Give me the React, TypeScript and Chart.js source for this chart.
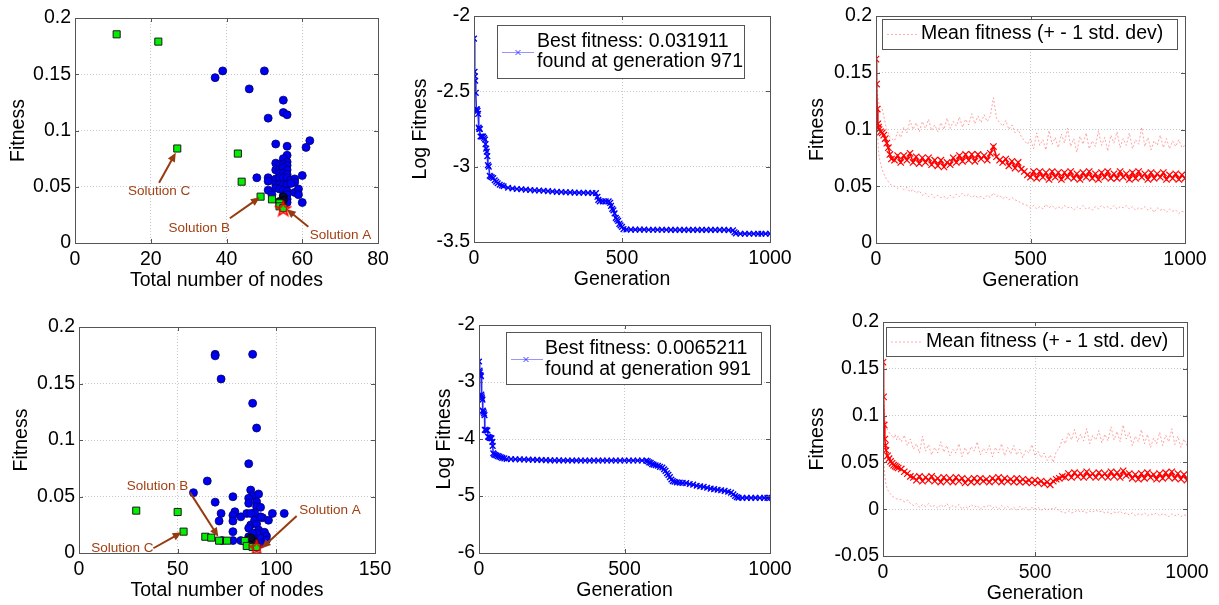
import React, { useEffect, useRef } from 'react';
import { Chart, registerables } from 'chart.js';
Chart.register(...registerables);

const FONT = "'Liberation Sans', Arial, Helvetica, sans-serif";
const BROWN_TEXT = 'rgb(160,64,20)';
const BROWN_ARROW = 'rgb(150,58,15)';

// ---------- Top-left scatter (fitness vs nodes) ----------
const TL_BLUE_NODES = [37,39,46,50,55,55,56,51,53,56,62,61,56,55,56,53,54,55,56,53,54,55,56,54,55,56,60,48,51,51,53,54,55,56,57,58,58,53,54,55,56,57,53,51,54,55,56,58,59,59,52,55,56,55,56,56,60];
const TL_BLUE_FIT = [0.147,0.153,0.137,0.153,0.127,0.116,0.114,0.111,0.088,0.086,0.091,0.085,0.078,0.075,0.072,0.071,0.070,0.070,0.069,0.065,0.065,0.067,0.065,0.062,0.062,0.061,0.060,0.058,0.058,0.055,0.057,0.058,0.058,0.058,0.056,0.057,0.054,0.052,0.052,0.052,0.052,0.053,0.049,0.047,0.048,0.047,0.046,0.045,0.048,0.043,0.043,0.042,0.043,0.039,0.039,0.036,0.036];
const TL_BLACK_NODES = [55,55,54];
const TL_BLACK_FIT = [0.041,0.038,0.037];
const TL_GREEN_NODES = [11,22,27,43,44,49,52,54,54,55];
const TL_GREEN_FIT = [0.1855,0.179,0.084,0.0795,0.0545,0.0412,0.0388,0.0353,0.0326,0.031];
const TL_STAR_NODES = [55];
const TL_STAR_FIT = [0.0305];
const TL_LABELS = ['Solution C','Solution B','Solution A'];
const TL_LABEL_X = [22.2,32.8,70.1];
const TL_LABEL_Y = [0.0456,0.0133,0.0071];
const TL_ARROW_FROM_X = [22.2,40.9,61.6];
const TL_ARROW_FROM_Y = [0.0536,0.022,0.0145];
const TL_ARROW_TO_X = [26.6,48.8,55.9];
const TL_ARROW_TO_Y = [0.0803,0.0406,0.030];

// ---------- Bottom-left scatter ----------
const BL_BLUE_NODES = [69,69,88,72,88,90,86,58,65,69,78,72,71,79,78,78,78,82,85,87,88,91,86,86,90,90,92,98,104,96,93,92,89,87,87,89,90,91,86,86,90,94,95,88,88,90,92,78,82,72.5,95,88,92];
const BL_BLUE_FIT = [0.1758,0.1745,0.1758,0.154,0.1325,0.1106,0.079,0.0534,0.0637,0.045,0.0498,0.035,0.0283,0.0365,0.0333,0.0283,0.0189,0.032,0.035,0.0557,0.0507,0.0522,0.0484,0.044,0.0454,0.041,0.0404,0.035,0.035,0.029,0.0312,0.032,0.0357,0.035,0.0248,0.029,0.0257,0.0204,0.022,0.0144,0.0175,0.0183,0.015,0.0175,0.0121,0.0109,0.013,0.011,0.011,0.011,0.0115,0.0083,0.0083];
const BL_BLACK_NODES = [86,88,89,87];
const BL_BLACK_FIT = [0.0115,0.0105,0.0095,0.0135];
const BL_GREEN_NODES = [29,50,53,64,67,71,75,84,85,88,90];
const BL_GREEN_FIT = [0.0375,0.0363,0.0189,0.0144,0.0136,0.0109,0.0109,0.0106,0.0062,0.0053,0.0053];
const BL_STAR_NODES = [90];
const BL_STAR_FIT = [0.0048];
const BL_LABELS = ['Solution C','Solution B','Solution A'];
const BL_LABEL_X = [22,39.8,127.2];
const BL_LABEL_Y = [0.0042,0.0587,0.038];
const BL_ARROW_FROM_X = [37.7,56.3,110.3];
const BL_ARROW_FROM_Y = [0.0042,0.0534,0.0327];
const BL_ARROW_TO_X = [52,70.6,92.6];
const BL_ARROW_TO_Y = [0.0183,0.0144,0.0042];

// ---------- Best fitness (log) [generation, ln fitness] ----------
const TOP_BEST: [number, number][] = [[0,-2.15],[2,-2.37],[3,-2.40],[4,-2.43],[6,-2.51],[8,-2.62],[10,-2.62],[12,-2.63],[14,-2.65],[16,-2.74],[18,-2.75],[20,-2.75],[22,-2.80],[25,-2.80],[28,-2.80],[31,-2.80],[34,-2.81],[37,-2.82],[39,-2.85],[41,-2.88],[43,-2.90],[45,-2.93],[47,-2.99],[50,-3.00],[53,-3.06],[56,-3.065],[60,-3.07],[65,-3.075],[70,-3.09],[75,-3.10],[80,-3.11],[87,-3.12],[94,-3.125],[100,-3.13],[115,-3.14],[130,-3.145],[145,-3.148],[160,-3.15],[175,-3.152],[190,-3.155],[205,-3.157],[220,-3.158],[235,-3.16],[250,-3.162],[265,-3.165],[280,-3.167],[295,-3.168],[310,-3.17],[325,-3.171],[340,-3.172],[355,-3.173],[370,-3.173],[385,-3.174],[400,-3.175],[412,-3.176],[417,-3.20],[420,-3.22],[425,-3.23],[435,-3.23],[445,-3.23],[455,-3.23],[460,-3.24],[463,-3.26],[467,-3.28],[471,-3.29],[475,-3.31],[479,-3.34],[483,-3.35],[487,-3.36],[491,-3.38],[495,-3.39],[500,-3.40],[505,-3.415],[515,-3.417],[530,-3.418],[545,-3.418],[560,-3.418],[575,-3.418],[590,-3.419],[605,-3.419],[620,-3.419],[635,-3.419],[650,-3.419],[665,-3.42],[680,-3.42],[695,-3.42],[710,-3.42],[725,-3.42],[740,-3.42],[755,-3.42],[770,-3.42],[785,-3.42],[800,-3.42],[815,-3.42],[830,-3.42],[845,-3.42],[860,-3.421],[875,-3.422],[880,-3.435],[885,-3.443],[900,-3.445],[915,-3.445],[930,-3.445],[945,-3.445],[960,-3.445],[971,-3.445],[985,-3.445],[1000,-3.445]];
const BOTTOM_BEST: [number, number][] = [[0,-2.64],[2,-2.80],[3,-2.83],[5,-2.88],[7,-2.90],[8,-3.22],[9,-3.25],[10,-3.28],[12,-3.31],[13,-3.50],[15,-3.52],[17,-3.55],[19,-3.58],[20,-3.84],[23,-3.84],[26,-3.85],[29,-3.85],[31,-3.96],[34,-3.97],[37,-3.98],[40,-3.98],[43,-3.99],[46,-4.05],[47,-4.12],[49,-4.25],[52,-4.27],[56,-4.28],[60,-4.29],[65,-4.30],[70,-4.31],[75,-4.32],[80,-4.33],[87,-4.34],[95,-4.35],[110,-4.352],[125,-4.355],[140,-4.357],[155,-4.36],[170,-4.362],[185,-4.364],[200,-4.366],[215,-4.368],[230,-4.37],[245,-4.375],[260,-4.376],[275,-4.376],[290,-4.377],[305,-4.377],[320,-4.377],[335,-4.377],[350,-4.378],[365,-4.378],[380,-4.378],[395,-4.378],[410,-4.378],[425,-4.378],[440,-4.378],[455,-4.378],[470,-4.378],[485,-4.378],[500,-4.378],[515,-4.378],[530,-4.378],[545,-4.378],[560,-4.378],[575,-4.38],[580,-4.39],[585,-4.41],[590,-4.42],[595,-4.44],[600,-4.45],[607,-4.46],[615,-4.47],[622,-4.49],[630,-4.50],[636,-4.53],[641,-4.56],[646,-4.60],[651,-4.63],[656,-4.67],[661,-4.71],[666,-4.74],[672,-4.75],[680,-4.76],[690,-4.765],[700,-4.77],[712,-4.775],[724,-4.79],[736,-4.80],[748,-4.82],[760,-4.83],[772,-4.84],[784,-4.855],[796,-4.87],[808,-4.88],[820,-4.89],[832,-4.90],[844,-4.91],[856,-4.925],[866,-4.94],[874,-4.97],[880,-5.00],[886,-5.02],[892,-5.03],[905,-5.033],[920,-5.033],[935,-5.033],[950,-5.033],[965,-5.033],[980,-5.033],[991,-5.033],[1000,-5.033]];
const TOP_BEST_LEGEND = ['Best fitness: 0.031911', 'found at generation 971'];
const BOTTOM_BEST_LEGEND = ['Best fitness: 0.0065211', 'found at generation 991'];

// ---------- Mean fitness +/- 1 std (sampled generations) ----------
const EARLY_GENS = [0,2,4,6,8,10,15,20,25,30,35,40,45,50];
const LATE_GENS = Array.from({ length: 95 }, (_, i) => 60 + 10 * i);
const GENS = [...EARLY_GENS, ...LATE_GENS];

const TR_MEAN = [0.162,0.14,0.118,0.105,0.102,0.100,0.098,0.097,0.095,0.092,0.088,0.084,0.078,0.074,
  0.073,0.077,0.071,0.077,0.073,0.079,0.071,0.076,0.070,0.075,
  0.071,0.075,0.069,0.073,0.068,0.073,0.067,0.071,0.069,0.075,
  0.071,0.077,0.072,0.078,0.073,0.078,0.072,0.078,0.074,0.077,
  0.073,0.079,0.085,0.076,0.073,0.071,0.074,0.068,0.072,0.066,
  0.071,0.065,0.063,0.060,0.058,0.063,0.057,0.063,0.058,0.062,
  0.056,0.063,0.058,0.062,0.056,0.062,0.058,0.063,0.057,0.061,
  0.056,0.062,0.058,0.063,0.057,0.061,0.056,0.062,0.058,0.063,
  0.057,0.061,0.057,0.063,0.058,0.061,0.056,0.062,0.057,0.063,
  0.058,0.061,0.056,0.062,0.057,0.061,0.058,0.062,0.056,0.060,
  0.057,0.061,0.056,0.060,0.057];
const TR_UPPER = [0.17,0.155,0.14,0.128,0.125,0.122,0.12,0.118,0.112,0.105,0.10,0.097,0.093,0.092,
  0.090,0.098,0.093,0.102,0.097,0.108,0.100,0.106,0.098,0.107,
  0.101,0.109,0.099,0.104,0.098,0.106,0.100,0.110,0.101,0.107,
  0.103,0.111,0.102,0.109,0.104,0.114,0.105,0.112,0.106,0.113,
  0.107,0.112,0.128,0.110,0.106,0.103,0.108,0.100,0.104,0.097,
  0.100,0.094,0.090,0.087,0.092,0.083,0.097,0.086,0.091,0.082,
  0.099,0.087,0.093,0.084,0.096,0.088,0.101,0.085,0.092,0.080,
  0.094,0.087,0.097,0.083,0.090,0.085,0.099,0.086,0.093,0.081,
  0.095,0.088,0.098,0.084,0.092,0.086,0.097,0.083,0.091,0.087,
  0.102,0.085,0.093,0.082,0.090,0.086,0.095,0.084,0.092,0.083,
  0.090,0.085,0.091,0.084,0.086];
const TR_LOWER = [0.152,0.12,0.10,0.09,0.082,0.076,0.07,0.065,0.061,0.058,0.056,0.054,0.052,0.051,
  0.050,0.048,0.050,0.047,0.049,0.045,0.047,0.044,0.046,0.042,
  0.044,0.041,0.043,0.040,0.042,0.040,0.041,0.039,0.042,0.040,
  0.043,0.041,0.044,0.041,0.043,0.040,0.042,0.040,0.041,0.039,
  0.042,0.040,0.044,0.041,0.042,0.039,0.041,0.038,0.040,0.038,
  0.037,0.035,0.034,0.033,0.031,0.033,0.030,0.032,0.030,0.034,
  0.031,0.033,0.030,0.032,0.030,0.033,0.031,0.032,0.029,0.032,
  0.030,0.033,0.030,0.031,0.029,0.032,0.030,0.033,0.031,0.032,
  0.030,0.033,0.030,0.032,0.031,0.033,0.030,0.032,0.029,0.031,
  0.030,0.032,0.029,0.031,0.027,0.031,0.029,0.030,0.027,0.030,
  0.028,0.029,0.026,0.028,0.027];

const BR_MEAN = [0.157,0.12,0.09,0.075,0.068,0.063,0.057,0.054,0.051,0.049,0.047,0.046,0.045,0.044,
  0.043,0.040,0.038,0.035,0.034,0.031,0.035,0.030,0.034,0.031,
  0.035,0.030,0.033,0.029,0.034,0.030,0.033,0.029,0.034,0.030,
  0.033,0.028,0.032,0.029,0.033,0.029,0.033,0.030,0.032,0.029,
  0.033,0.030,0.034,0.029,0.033,0.030,0.032,0.029,0.033,0.029,
  0.032,0.029,0.031,0.028,0.031,0.028,0.030,0.027,0.029,0.026,
  0.030,0.032,0.033,0.035,0.034,0.038,0.034,0.039,0.035,0.038,
  0.034,0.040,0.035,0.038,0.034,0.039,0.035,0.038,0.034,0.040,
  0.035,0.039,0.034,0.041,0.036,0.038,0.033,0.037,0.032,0.038,
  0.033,0.039,0.034,0.037,0.032,0.038,0.033,0.039,0.034,0.040,
  0.033,0.038,0.032,0.037,0.031];
const BR_UPPER = [0.18,0.14,0.11,0.10,0.095,0.09,0.085,0.082,0.080,0.078,0.076,0.080,0.074,0.078,
  0.072,0.079,0.068,0.075,0.064,0.070,0.060,0.078,0.062,0.069,
  0.058,0.066,0.060,0.072,0.061,0.068,0.057,0.064,0.060,0.070,
  0.056,0.066,0.058,0.067,0.062,0.072,0.058,0.065,0.060,0.068,
  0.056,0.066,0.060,0.070,0.057,0.066,0.059,0.068,0.058,0.064,
  0.055,0.063,0.060,0.069,0.057,0.062,0.055,0.060,0.052,0.058,
  0.050,0.062,0.065,0.075,0.070,0.082,0.074,0.085,0.072,0.080,
  0.073,0.086,0.070,0.079,0.074,0.084,0.071,0.080,0.073,0.088,
  0.074,0.083,0.072,0.090,0.075,0.082,0.068,0.078,0.072,0.085,
  0.070,0.080,0.066,0.076,0.070,0.082,0.068,0.079,0.072,0.086,
  0.069,0.078,0.066,0.075,0.068];
const BR_LOWER = [0.14,0.07,0.045,0.035,0.03,0.026,0.021,0.018,0.016,0.014,0.013,0.012,0.011,0.011,
  0.010,0.008,0.010,0.006,0.004,0.006,0.002,0.005,0.003,0.006,
  0.002,0.004,0.001,0.005,0.002,0.006,0.001,0.004,0.002,0.005,
  0.000,0.003,0.001,0.005,0.002,0.004,0.000,0.003,0.002,0.005,
  0.001,0.003,0.000,0.004,0.001,0.003,0.000,0.002,-0.001,0.003,
  0.000,0.002,-0.001,0.002,0.000,0.002,-0.001,0.001,-0.001,0.001,
  0.000,0.002,-0.002,-0.003,-0.004,-0.002,-0.004,-0.003,-0.001,-0.003,
  -0.002,-0.004,-0.002,-0.003,-0.001,-0.003,-0.002,-0.004,-0.003,-0.005,
  -0.003,-0.004,-0.002,-0.005,-0.004,-0.006,-0.004,-0.007,-0.005,-0.006,
  -0.004,-0.007,-0.005,-0.006,-0.004,-0.007,-0.005,-0.006,-0.008,-0.005,
  -0.007,-0.005,-0.008,-0.006,-0.007];
const MEAN_LEGEND = ['Mean fitness (+ - 1 std. dev)'];

// ---------- helpers ----------
const pts = (xs: number[], ys: number[]) => xs.map((x, i) => ({ x, y: ys[i] }));
const pairPts = (arr: [number, number][]) => arr.map(([x, y]) => ({ x, y }));
const fmt = (v: any) => String(Math.round(Number(v) * 10000) / 10000);

type Legend = { dx: number; dy: number; w: number; h: number; sy: number; s0: number; s1: number; marker: number | null; color: string; dash: number[]; tx: number; ty: number[]; lines: string[]; markerColor: string };
type Annots = { labels: string[]; lx: number[]; ly: number[]; fx: number[]; fy: number[]; tx: number[]; ty: number[] };
type Panel = {
  L: number; T: number; R: number; B: number; titleCX: number;
  xMin: number; xMax: number; xStep: number; yMin: number; yMax: number; yStep: number;
  xTitle: string; yTitle: string; datasets: (star: HTMLCanvasElement) => any[];
  annots?: Annots; legend?: Legend;
};

const PAD_T = 16, PAD_R = 30, HX = 49, HALF_TITLE = 11.7;

function scatterSets(bn: number[], bf: number[], kn: number[], kf: number[], gn: number[], gf: number[], sn: number[], sf: number[]) {
  return (star: HTMLCanvasElement) => [
    { data: pts(sn, sf), pointStyle: star, pointRadius: 7, showLine: false },
    { data: pts(gn, gf), pointStyle: 'rect', pointRadius: 5, pointBackgroundColor: '#00f000', pointBorderColor: '#1a1a1a', pointBorderWidth: 1, showLine: false },
    { data: pts(kn, kf), pointStyle: 'circle', pointRadius: 4, pointBackgroundColor: '#0a0a30', pointBorderColor: '#000', pointBorderWidth: 0.8, showLine: false },
    { data: pts(bn, bf), pointStyle: 'circle', pointRadius: 4, pointBackgroundColor: '#0000f0', pointBorderColor: '#00006a', pointBorderWidth: 0.8, showLine: false },
  ];
}
function bestSets(arr: [number, number][]) {
  return () => [
    { data: pairPts(arr), showLine: true, borderColor: 'rgba(0,0,255,0.85)', borderWidth: 1.6, pointStyle: 'crossRot', pointRadius: 4, pointBorderColor: 'rgb(0,0,255)', pointBackgroundColor: 'rgba(0,0,0,0)', pointBorderWidth: 1.4 },
  ];
}
function meanSets(mean: number[], up: number[], low: number[]) {
  const std = { showLine: true, borderColor: 'rgba(255,90,90,0.55)', borderWidth: 1, borderDash: [2, 2], pointRadius: 0 };
  return () => [
    { data: pts(GENS, mean), showLine: true, borderColor: 'rgb(255,0,0)', borderWidth: 1.6, pointStyle: 'crossRot', pointRadius: 4.5, pointBorderColor: 'rgb(255,0,0)', pointBackgroundColor: 'rgba(0,0,0,0)', pointBorderWidth: 1.2 },
    { data: pts(GENS, up), ...std },
    { data: pts(GENS, low), ...std },
  ];
}

const bestLegend = (lines: string[], dx: number, dy: number, w: number, h: number, tx: number, ty: number[], marker: number): Legend => ({
  dx, dy, w, h, sy: 27, s0: 5, s1: 37, marker, color: 'rgba(80,80,255,0.6)', dash: [], tx, ty, lines, markerColor: 'rgb(60,60,255)',
});
const meanLegend = (dx: number, dy: number, w: number, h: number, tx: number, ty: number): Legend => ({
  dx, dy, w, h, sy: h / 2, s0: 5, s1: 37, marker: null, color: 'rgba(255,120,120,0.6)', dash: [2, 2], tx, ty: [ty], lines: MEAN_LEGEND, markerColor: '',
});

const PANELS: Panel[] = [
  { L: 75, T: 18, R: 378, B: 243, titleCX: 19, xMin: 0, xMax: 80, xStep: 20, yMin: 0, yMax: 0.2, yStep: 0.05,
    xTitle: 'Total number of nodes', yTitle: 'Fitness',
    datasets: scatterSets(TL_BLUE_NODES, TL_BLUE_FIT, TL_BLACK_NODES, TL_BLACK_FIT, TL_GREEN_NODES, TL_GREEN_FIT, TL_STAR_NODES, TL_STAR_FIT),
    annots: { labels: TL_LABELS, lx: TL_LABEL_X, ly: TL_LABEL_Y, fx: TL_ARROW_FROM_X, fy: TL_ARROW_FROM_Y, tx: TL_ARROW_TO_X, ty: TL_ARROW_TO_Y } },
  { L: 474, T: 16, R: 770, B: 242, titleCX: 421, xMin: 0, xMax: 1000, xStep: 500, yMin: -3.5, yMax: -2, yStep: 0.5,
    xTitle: 'Generation', yTitle: 'Log Fitness', datasets: bestSets(TOP_BEST),
    legend: bestLegend(TOP_BEST_LEGEND, 23, 9, 247, 53, 40, [17, 37], 21) },
  { L: 876, T: 16, R: 1185, B: 243, titleCX: 818, xMin: 0, xMax: 1000, xStep: 500, yMin: 0, yMax: 0.2, yStep: 0.05,
    xTitle: 'Generation', yTitle: 'Fitness', datasets: meanSets(TR_MEAN, TR_UPPER, TR_LOWER),
    legend: meanLegend(6, 3, 295, 30, 39, 15) },
  { L: 79, T: 327, R: 375, B: 553, titleCX: 22, xMin: 0, xMax: 150, xStep: 50, yMin: 0, yMax: 0.2, yStep: 0.05,
    xTitle: 'Total number of nodes', yTitle: 'Fitness',
    datasets: scatterSets(BL_BLUE_NODES, BL_BLUE_FIT, BL_BLACK_NODES, BL_BLACK_FIT, BL_GREEN_NODES, BL_GREEN_FIT, BL_STAR_NODES, BL_STAR_FIT),
    annots: { labels: BL_LABELS, lx: BL_LABEL_X, ly: BL_LABEL_Y, fx: BL_ARROW_FROM_X, fy: BL_ARROW_FROM_Y, tx: BL_ARROW_TO_X, ty: BL_ARROW_TO_Y } },
  { L: 479, T: 325, R: 770, B: 553, titleCX: 445, xMin: 0, xMax: 1000, xStep: 500, yMin: -6, yMax: -2, yStep: 1,
    xTitle: 'Generation', yTitle: 'Log Fitness', datasets: bestSets(BOTTOM_BEST),
    legend: bestLegend(BOTTOM_BEST_LEGEND, 27, 7, 255, 52, 39, [17, 38], 20) },
  { L: 883, T: 322, R: 1187, B: 556, titleCX: 818, xMin: 0, xMax: 1000, xStep: 500, yMin: -0.05, yMax: 0.2, yStep: 0.05,
    xTitle: 'Generation', yTitle: 'Fitness', datasets: meanSets(BR_MEAN, BR_UPPER, BR_LOWER),
    legend: meanLegend(3, 5, 297, 29, 40, 15) },
];

function geom(p: Panel) {
  const cl = Math.round(p.titleCX - HALF_TITLE);
  const ct = p.T - PAD_T;
  const cw = p.R + PAD_R - cl;
  const ch = PAD_T + (p.B - p.T) + HX;
  return { cl, ct, cw, ch, wy: p.L - cl };
}

function makeStar(): HTMLCanvasElement {
  const size = 18;
  const c = document.createElement('canvas');
  c.width = size; c.height = size;
  const g = c.getContext('2d')!;
  const cx = size / 2, cy = size / 2 + 0.5, R = size / 2 - 1.5, r = R * 0.4;
  g.beginPath();
  for (let i = 0; i < 10; i++) {
    const a = -Math.PI / 2 + (i * Math.PI) / 5;
    const rad = i % 2 === 0 ? R : r;
    const x = cx + rad * Math.cos(a), y = cy + rad * Math.sin(a);
    if (i === 0) g.moveTo(x, y); else g.lineTo(x, y);
  }
  g.closePath();
  g.strokeStyle = 'rgb(255,0,0)';
  g.lineWidth = 1.6;
  g.stroke();
  return c;
}

function overlay(p: Panel) {
  return {
    id: 'overlay',
    afterDatasetsDraw(chart: any) {
      const ctx: CanvasRenderingContext2D = chart.ctx;
      const a = chart.chartArea;
      const xs = chart.scales.x, ys = chart.scales.y;
      const line = (x0: number, y0: number, x1: number, y1: number) => { ctx.beginPath(); ctx.moveTo(x0, y0); ctx.lineTo(x1, y1); ctx.stroke(); };
      ctx.save();
      if (p.annots) {
        const an = p.annots;
        for (let i = 0; i < an.labels.length; i++) {
          ctx.fillStyle = BROWN_TEXT;
          ctx.font = `13.5px ${FONT}`;
          ctx.textAlign = 'center';
          ctx.textBaseline = 'middle';
          ctx.fillText(an.labels[i], xs.getPixelForValue(an.lx[i]), ys.getPixelForValue(an.ly[i]));
          const x0 = xs.getPixelForValue(an.fx[i]), y0 = ys.getPixelForValue(an.fy[i]);
          const x1 = xs.getPixelForValue(an.tx[i]), y1 = ys.getPixelForValue(an.ty[i]);
          const ang = Math.atan2(y1 - y0, x1 - x0);
          const hl = 9, hw = 4;
          ctx.strokeStyle = BROWN_ARROW; ctx.fillStyle = BROWN_ARROW; ctx.lineWidth = 2;
          line(x0, y0, x1 - Math.cos(ang) * (hl - 1), y1 - Math.sin(ang) * (hl - 1));
          ctx.beginPath();
          ctx.moveTo(x1, y1);
          ctx.lineTo(x1 - hl * Math.cos(ang) + hw * Math.sin(ang), y1 - hl * Math.sin(ang) - hw * Math.cos(ang));
          ctx.lineTo(x1 - hl * Math.cos(ang) - hw * Math.sin(ang), y1 - hl * Math.sin(ang) + hw * Math.cos(ang));
          ctx.closePath();
          ctx.fill();
        }
      }
      ctx.setLineDash([]);
      ctx.strokeStyle = '#555';
      ctx.lineWidth = 1;
      ctx.strokeRect(a.left + 0.5, a.top + 0.5, a.right - a.left, a.bottom - a.top);
      for (const t of xs.ticks) {
        const px = Math.round(xs.getPixelForValue(t.value)) + 0.5;
        line(px, a.bottom, px, a.bottom - 4);
        line(px, a.top, px, a.top + 4);
      }
      for (const t of ys.ticks) {
        const py = Math.round(ys.getPixelForValue(t.value)) + 0.5;
        line(a.left, py, a.left + 4, py);
        line(a.right, py, a.right - 4, py);
      }
      if (p.legend) {
        const lg = p.legend;
        const x0 = Math.round(a.left + lg.dx), y0 = Math.round(a.top + lg.dy);
        ctx.fillStyle = '#fff';
        ctx.fillRect(x0, y0, lg.w, lg.h);
        ctx.strokeStyle = '#555';
        ctx.lineWidth = 1;
        ctx.strokeRect(x0 + 0.5, y0 + 0.5, lg.w, lg.h);
        ctx.strokeStyle = lg.color;
        ctx.setLineDash(lg.dash);
        line(x0 + lg.s0, y0 + lg.sy + 0.5, x0 + lg.s1, y0 + lg.sy + 0.5);
        ctx.setLineDash([]);
        if (lg.marker !== null) {
          const mx = x0 + lg.marker, my = y0 + lg.sy + 0.5, s = 2.5;
          ctx.strokeStyle = lg.markerColor;
          line(mx - s, my - s, mx + s, my + s);
          line(mx - s, my + s, mx + s, my - s);
        }
        ctx.fillStyle = '#000';
        ctx.font = `19.5px ${FONT}`;
        ctx.textAlign = 'left';
        ctx.textBaseline = 'middle';
        lg.lines.forEach((s, i) => ctx.fillText(s, x0 + lg.tx, y0 + lg.ty[i]));
      }
      ctx.restore();
    },
  };
}

function axis(min: number, max: number, step: number, title: string, horizontal: boolean, size: number) {
  return {
    type: 'linear',
    position: horizontal ? 'bottom' : 'left',
    min, max,
    ticks: { stepSize: step, autoSkip: false, maxRotation: 0, padding: horizontal ? 5 : 4, color: '#000', font: { family: FONT, size: 19.5, lineHeight: 1.2 }, callback: (v: any) => fmt(v) },
    grid: { color: 'rgba(0,0,0,0.22)', lineWidth: 1, drawTicks: false },
    border: { display: false, dash: [1, 2] },
    title: { display: true, text: title, color: '#000', font: { family: FONT, size: 19.5, lineHeight: 1.2 }, padding: 0 },
    afterFit: (s: any) => { if (horizontal) s.height = size; else s.width = size; },
  };
}

export default function App() {
  const refs = useRef<(HTMLCanvasElement | null)[]>([]);
  useEffect(() => {
    Chart.defaults.font.family = FONT;
    const star = makeStar();
    const charts = PANELS.map((p, i) => {
      const g = geom(p);
      return new Chart(refs.current[i]!, {
        type: 'scatter',
        data: { datasets: p.datasets(star) },
        options: {
          animation: false,
          responsive: false,
          maintainAspectRatio: false,
          events: [],
          layout: { padding: { left: 0, top: PAD_T, right: PAD_R, bottom: 0 } },
          elements: { line: { tension: 0 } },
          plugins: { legend: { display: false }, tooltip: { enabled: false }, title: { display: false } },
          scales: {
            x: axis(p.xMin, p.xMax, p.xStep, p.xTitle, true, HX),
            y: axis(p.yMin, p.yMax, p.yStep, p.yTitle, false, g.wy),
          },
        } as any,
        plugins: [overlay(p)],
      } as any);
    });
    return () => charts.forEach((c) => c.destroy());
  }, []);

  return (
    <div style={{ position: 'absolute', left: 0, top: 0, width: 1219, height: 605, background: '#fff', overflow: 'hidden' }}>
      {PANELS.map((p, i) => {
        const g = geom(p);
        return (
          <canvas
            key={i}
            ref={(el) => { refs.current[i] = el; }}
            width={g.cw}
            height={g.ch}
            style={{ position: 'absolute', left: g.cl, top: g.ct, width: g.cw, height: g.ch }}
          />
        );
      })}
    </div>
  );
}
